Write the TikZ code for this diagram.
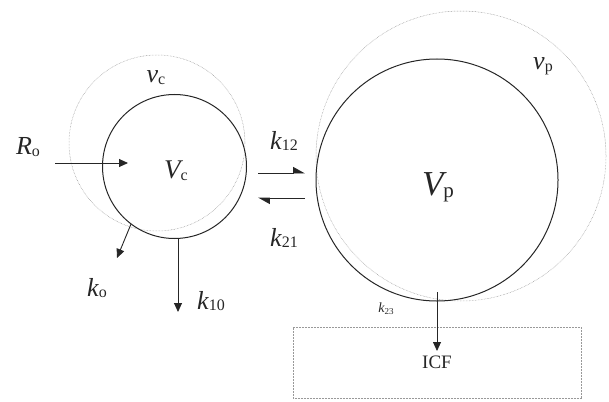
\documentclass[tikz,border=0pt]{standalone}
\usepackage{fontspec}
\setmainfont{Liberation Serif}[ItalicFont={Liberation Serif Italic}]
\newfontfamily\itfont{Liberation Serif Italic}
\usetikzlibrary{arrows.meta}
\newcommand{\symb}[4]{{\fontsize{#3}{#3}\itfont #1}\raisebox{-0.4ex}{\fontsize{#4}{#4}\selectfont\upshape #2}}
\begin{document}
\begin{tikzpicture}[x=1pt,y=-1pt,
  comp/.style={circle, draw=black!85, line width=1pt, inner sep=0pt},
  halo/.style={draw=black!40, line width=0.5pt, dash pattern=on 0.6pt off 0.9pt},
  arr/.style={draw=black!85, line width=0.9pt, -{Triangle[length=9pt,width=8pt]}},
  harp/.style={draw=black!85, line width=0.9pt, -{Triangle[length=11pt,width=12pt,left]}},
  txt/.style={inner sep=0pt, text=black!85}]
\useasboundingbox (0,0) rectangle (609,401);
% halos
\draw[halo] (157,143) circle[radius=88pt];
\draw[halo] (461,156) circle[radius=145pt];
% compartments
\node[comp, minimum size=144pt] (c) at (174.5,166.5) {};
\node[comp, minimum size=242pt] (p) at (437,180) {};
\node[halo, draw, rectangle, minimum width=288pt, minimum height=71pt, inner sep=0pt] (icf) at (437,362.5) {};
% texts
\node[txt] (Vc) at (176,171) {\symb{V}{c}{27pt}{16pt}};
\node[txt] (vc) at (156,78) {\symb{v}{c}{26pt}{16pt}};
\node[txt] (Vp) at (438,187) {\symb{V}{p}{35pt}{21pt}};
\node[txt] (vp) at (543,66) {\symb{v}{p}{26pt}{16pt}};
\node[txt] (Ro) at (28,147) {\symb{R}{o}{26pt}{16pt}};
\node[txt] (k12) at (284,141) {\symb{k}{12}{26pt}{16pt}};
\node[txt] (k21) at (284,238) {\symb{k}{21}{26pt}{16pt}};
\node[txt] (ko) at (97,288) {\symb{k}{o}{26pt}{16pt}};
\node[txt] (k10) at (211,301) {\symb{k}{10}{26pt}{16pt}};
\node[txt] (k23) at (386,309) {\symb{k}{23}{14pt}{9pt}};
\node[txt] (icft) at (437,362) {\fontsize{19pt}{19pt}\selectfont ICF};
% connector endpoints
\coordinate (ro0) at (55,163);
\coordinate (ro1) at (128,163);
\coordinate (ko1) at (117,258);
\coordinate (k101) at (178,312);
\coordinate (a0) at (258,173);
\coordinate (a1) at (305,173);
\coordinate (b0) at (305,198);
\coordinate (b1) at (258,198);
\coordinate (k230) at (437,292);
\coordinate (k231) at (437,351);
% arrows
\draw[arr] (ro0) -- (ro1);
\draw[arr] (c.233) -- (ko1);
\draw[arr] (c.south -| k101) -- (k101);
\draw[harp] (a0) -- (a1);
\draw[harp] (b0) -- (b1);
\draw[arr] (k230) -- (k231);
\end{tikzpicture}
\end{document}
